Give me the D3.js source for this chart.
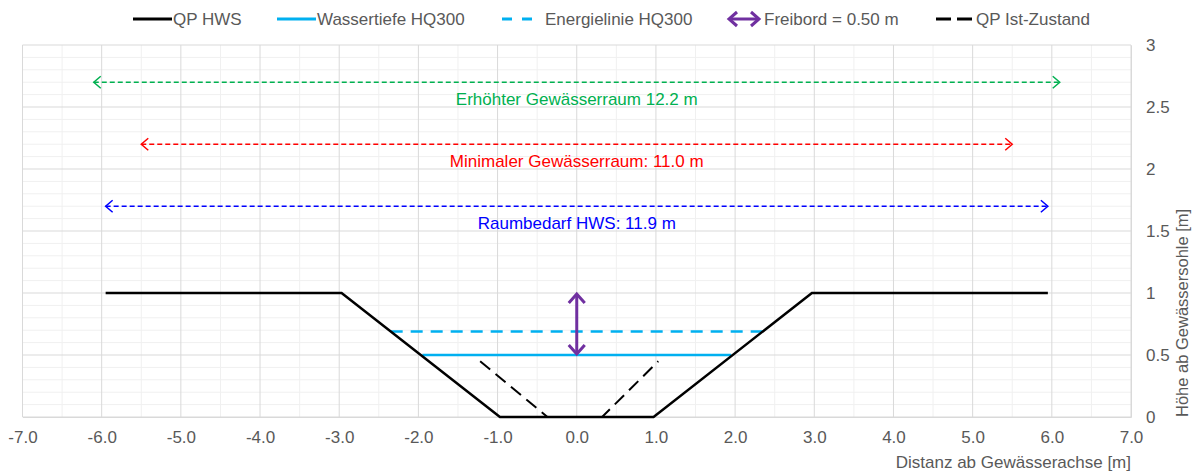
<!DOCTYPE html>
<html><head><meta charset="utf-8">
<script src="https://cdn.jsdelivr.net/npm/d3@7"></script>
<style>body{margin:0;background:#fff} text{font-family:"Liberation Sans",Arial,sans-serif}</style>
</head><body><svg id="c" width="1199" height="471"></svg>
<script>
// ---- data ----
const hwsX = [-5.95, -2.97, -0.97, 0.97, 2.97, 5.95];
const hwsY = [1, 1, 0, 0, 1, 1];
const istX = [-1.22, -0.37, 0.32, 1.03];
const istY = [0.45, 0, 0, 0.45];
const waterX = [-1.95, 1.95];
const waterLevel = 0.5;
const energyX = [-2.35, 2.35];
const energyLevel = 0.69;
const freibordX = 0;
const freibordY = [0.5, 1.0];
const spanNames = ["Erhöhter Gewässerraum 12.2 m", "Minimaler Gewässerraum: 11.0 m", "Raumbedarf HWS: 11.9 m"];
const spanFrom = [-6.1, -5.5, -5.95];
const spanTo = [6.1, 5.5, 5.95];
const spanLevel = [2.7, 2.2, 1.7];
const spanColors = ["#00b050", "#ff0000", "#0000ff"];
const legendNames = ["QP HWS", "Wassertiefe HQ300", "Energielinie HQ300", "Freibord = 0.50 m", "QP Ist-Zustand"];
const xTicks = [-7, -6, -5, -4, -3, -2, -1, 0, 1, 2, 3, 4, 5, 6, 7];
const yTicks = [0, 0.5, 1, 1.5, 2, 2.5, 3];
const xTitle = "Distanz ab Gewässerachse [m]";
const yTitle = "Höhe ab Gewässersohle [m]";

// ---- layout ----
const L = 22.5, R = 1131, T = 45, B = 417;
const x = d3.scaleLinear().domain([-7, 7]).range([L, R]);
const y = d3.scaleLinear().domain([0, 3]).range([B, T]);
const svg = d3.select("#c");
const grey = "#595959";
const FS = 17;

// grid
const g = svg.append("g");
g.selectAll(".vmin").data(d3.range(-6.5, 7, 1)).join("line")
  .attr("x1", d => x(d)).attr("x2", d => x(d)).attr("y1", T).attr("y2", B)
  .attr("stroke", "#f0f0f0").attr("stroke-width", 1);
const hmin = d3.range(0, 31).map(i => i / 10).filter(v => Math.round(v * 10) % 5 !== 0);
g.selectAll(".hmin").data(hmin).join("line")
  .attr("x1", L).attr("x2", R).attr("y1", d => y(d)).attr("y2", d => y(d))
  .attr("stroke", "#f0f0f0").attr("stroke-width", 1);
g.selectAll(".vmaj").data(xTicks).join("line")
  .attr("x1", d => x(d)).attr("x2", d => x(d)).attr("y1", T).attr("y2", B)
  .attr("stroke", "#d9d9d9").attr("stroke-width", 1);
g.selectAll(".hmaj").data(yTicks).join("line")
  .attr("x1", L).attr("x2", R).attr("y1", d => y(d)).attr("y2", d => y(d))
  .attr("stroke", "#d9d9d9").attr("stroke-width", 1);

// axes labels
svg.append("g").attr("transform", `translate(0,${B})`)
  .call(d3.axisBottom(x).tickValues(xTicks).tickFormat(d => d.toFixed(1)).tickSize(0).tickPadding(14))
  .call(a => a.select(".domain").attr("stroke", "#d9d9d9"))
  .call(a => a.selectAll("text").attr("fill", grey).attr("font-size", FS).attr("font-family", '"Liberation Sans",Arial,sans-serif'));
svg.append("g").attr("transform", `translate(${R},0)`)
  .call(d3.axisRight(y).tickValues(yTicks).tickFormat(d => String(d)).tickSize(0).tickPadding(15))
  .call(a => a.select(".domain").attr("stroke", "#d9d9d9"))
  .call(a => a.selectAll("text").attr("fill", grey).attr("font-size", FS).attr("font-family", '"Liberation Sans",Arial,sans-serif'));

svg.append("text").attr("x", R).attr("y", 468).attr("text-anchor", "end")
  .attr("fill", grey).attr("font-size", FS).text(xTitle);
svg.append("text").attr("transform", `translate(1188,${B}) rotate(-90)`).attr("text-anchor", "start")
  .attr("fill", grey).attr("font-size", 16.5).text(yTitle);

const line = d3.line().x(d => x(d[0])).y(d => y(d[1]));

// span arrows
spanNames.forEach((name, i) => {
  const yy = y(spanLevel[i]);
  svg.append("line").attr("x1", x(spanFrom[i])).attr("x2", x(spanTo[i])).attr("y1", yy).attr("y2", yy)
    .attr("stroke", spanColors[i]).attr("stroke-width", 1.5).attr("stroke-dasharray", "5 3");
  const a = x(spanFrom[i]), b = x(spanTo[i]);
  svg.append("path").attr("d", `M${a + 7},${yy - 6}L${a},${yy}L${a + 7},${yy + 6}M${b - 7},${yy - 6}L${b},${yy}L${b - 7},${yy + 6}`)
    .attr("fill", "none").attr("stroke", spanColors[i]).attr("stroke-width", 1.5);
  svg.append("text").attr("x", x(0)).attr("y", yy + 23).attr("text-anchor", "middle")
    .attr("fill", spanColors[i]).attr("font-size", FS).text(name);
});

// water / energy
svg.append("path").attr("d", line(energyX.map(v => [v, energyLevel])))
  .attr("stroke", "#00b0f0").attr("stroke-width", 2.5).attr("fill", "none").attr("stroke-dasharray", "12 8");
svg.append("path").attr("d", line(waterX.map(v => [v, waterLevel])))
  .attr("stroke", "#00b0f0").attr("stroke-width", 2.5).attr("fill", "none");

// Ist-Zustand
svg.append("path").attr("d", line(istX.map((v, i) => [v, istY[i]])))
  .attr("stroke", "#000").attr("stroke-width", 2).attr("fill", "none").attr("stroke-dasharray", "13 7");

// HWS
svg.append("path").attr("d", line(hwsX.map((v, i) => [v, hwsY[i]])))
  .attr("stroke", "#000").attr("stroke-width", 2.5).attr("fill", "none");

// Freibord arrow
{
  const fx = x(freibordX), y0 = y(freibordY[0]), y1 = y(freibordY[1]);
  svg.append("line").attr("x1", fx).attr("x2", fx).attr("y1", y0 - 1).attr("y2", y1 + 1)
    .attr("stroke", "#7030a0").attr("stroke-width", 3);
  svg.append("path").attr("d", `M${fx - 8},${y1 + 10}L${fx},${y1 + 1}L${fx + 8},${y1 + 10}M${fx - 8},${y0 - 10}L${fx},${y0 - 1}L${fx + 8},${y0 - 10}`)
    .attr("fill", "none").attr("stroke", "#7030a0").attr("stroke-width", 3).attr("stroke-linejoin", "miter");
}

// legend
const legX = [133, 277, 502, 728, 936];
const ly = 19;
const lg = svg.append("g");
legendNames.forEach((n, i) => {
  const sx = legX[i];
  let tx;
  if (i === 0 || i === 1) {
    lg.append("line").attr("x1", sx).attr("x2", sx + 39).attr("y1", ly).attr("y2", ly)
      .attr("stroke", i === 0 ? "#000" : "#00b0f0").attr("stroke-width", 3);
    tx = sx + 40;
  } else if (i === 2) {
    lg.append("line").attr("x1", sx).attr("x2", sx + 30).attr("y1", ly).attr("y2", ly)
      .attr("stroke", "#00b0f0").attr("stroke-width", 3).attr("stroke-dasharray", "10 10");
    tx = sx + 43;
  } else if (i === 3) {
    lg.append("line").attr("x1", sx + 1).attr("x2", sx + 31).attr("y1", ly).attr("y2", ly)
      .attr("stroke", "#7030a0").attr("stroke-width", 3);
    lg.append("path").attr("d", `M${sx + 9},${ly - 7}L${sx + 1},${ly}L${sx + 9},${ly + 7}M${sx + 23},${ly - 7}L${sx + 31},${ly}L${sx + 23},${ly + 7}`)
      .attr("fill", "none").attr("stroke", "#7030a0").attr("stroke-width", 3);
    tx = sx + 36;
  } else {
    lg.append("line").attr("x1", sx).attr("x2", sx + 38).attr("y1", ly).attr("y2", ly)
      .attr("stroke", "#000").attr("stroke-width", 3).attr("stroke-dasharray", "15 6");
    tx = sx + 40;
  }
  lg.append("text").attr("x", tx).attr("y", ly + 6).attr("fill", grey).attr("font-size", FS).text(n);
});
</script></body></html>
